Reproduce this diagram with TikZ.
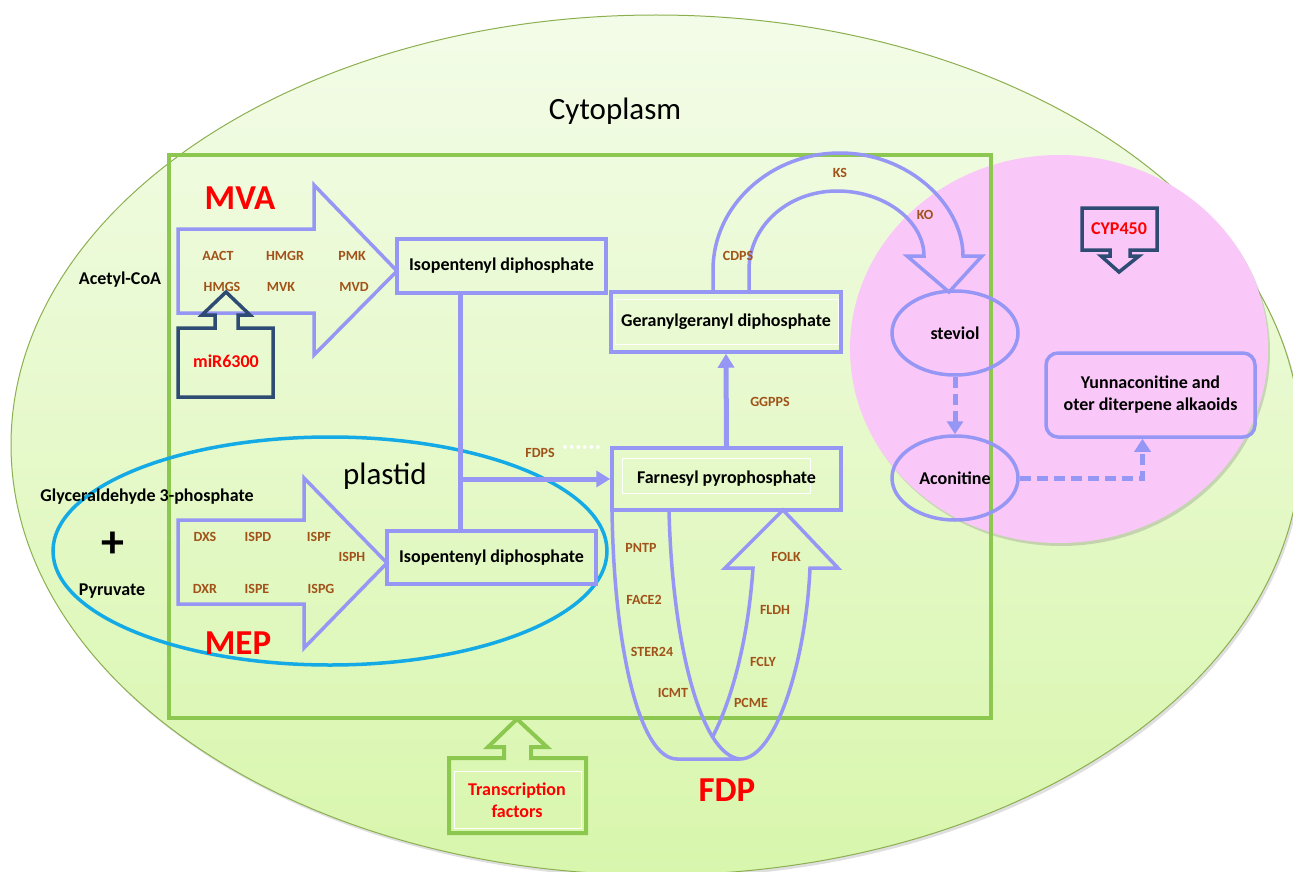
\documentclass[tikz,border=0pt]{standalone}
\usepackage{fontspec}
\setmainfont{Carlito}
\usetikzlibrary{arrows.meta,shapes.geometric,shadows}
\definecolor{peri}{RGB}{150,150,245}
\definecolor{enzcol}{RGB}{160,82,25}
\definecolor{gboxcol}{RGB}{140,200,80}
\definecolor{cyanl}{RGB}{20,170,230}
\definecolor{pinkc}{RGB}{250,200,248}
\definecolor{dblue}{RGB}{45,75,115}
\definecolor{cyttop}{RGB}{243,252,232}
\definecolor{cytbot}{RGB}{216,246,172}
\definecolor{cytedge}{RGB}{140,175,80}
\begin{document}
\begin{tikzpicture}[x=1pt,y=-1pt,
  pbox/.style={draw=peri,line width=3.5pt,inner sep=0pt,font=\fontsize{18}{20}\selectfont\bfseries},
  pell/.style={ellipse,draw=peri,line width=3.5pt,inner sep=0pt,minimum width=126pt,minimum height=84pt,font=\fontsize{18}{20}\selectfont\bfseries},
  enzlab/.style={text=enzcol,font=\fontsize{14}{16}\selectfont\bfseries,inner sep=0pt},
  blab/.style={font=\fontsize{18}{20}\selectfont\bfseries,inner sep=0pt},
  bigred/.style={text=red,font=\fontsize{35}{40}\selectfont\bfseries,inner sep=0pt},
  redlab/.style={text=red,font=\fontsize{18}{22}\selectfont\bfseries,inner sep=0pt},
  conn/.style={draw=peri,line width=5pt},
  dconn/.style={draw=peri,line width=5pt,dash pattern=on 11pt off 6pt},
  outl/.style={draw=peri,line width=3.5pt,line join=miter},
  tip/.style={-{Triangle[length=14pt,width=16pt]}}
]
\useasboundingbox (0,0) rectangle (1293,872);
\clip (0,0) rectangle (1293,872);
% cytoplasm
\draw[draw=cytedge,line width=1pt,top color=cyttop,bottom color=cytbot,
  drop shadow={shadow xshift=2pt,shadow yshift=-3pt,opacity=0.25}] (656,445) ellipse [x radius=645, y radius=430];
% pink compartment
\fill[pinkc,drop shadow={shadow xshift=2pt,shadow yshift=-3pt,opacity=0.3}] (1059,349) ellipse [x radius=209, y radius=194];
% green plastid box
\draw[gboxcol,line width=3.5pt] (169,155) rectangle (991,718);
\node[font=\fontsize{31}{36}\selectfont,inner sep=0pt] (cyt) at (615,111) {Cytoplasm};
% plastid ellipse
\draw[cyanl,line width=3.5pt] (330,551) ellipse [x radius=277, y radius=114];
\node[font=\fontsize{31}{36}\selectfont,inner sep=0pt] (pl) at (385,476) {plastid};
% MVA and MEP block arrows
\draw[outl] (178,229) -- (314,229) -- (314,185) -- (397,271) -- (314,355) -- (314,313) -- (178,313) -- cycle;
\draw[outl] (178,520) -- (304,520) -- (304,478) -- (387,563) -- (304,648) -- (304,604) -- (178,604) -- cycle;
% boxes
\node[pbox,minimum width=209pt,minimum height=54pt] (ipp1) at (501.5,266) {Isopentenyl diphosphate};
\node[pbox,minimum width=209pt,minimum height=53pt] (ipp2) at (491.5,557.5) {Isopentenyl diphosphate};
\draw[white,line width=0.8pt] (615,299) rectangle (838,344);
\node[pbox,minimum width=230pt,minimum height=60pt] (gg) at (726,322) {Geranylgeranyl diphosphate};
\draw[white,line width=0.8pt] (622,458) rectangle (810,493);
\node[pbox,minimum width=229pt,minimum height=62pt] (fpp) at (726.5,479) {Farnesyl pyrophosphate};
\node[pell] (stev) at (955,333) {steviol};
\node[pell] (acon) at (955,478) {Aconitine};
\node[pbox,rounded corners=12pt,minimum width=209pt,minimum height=84pt,align=center,font=\fontsize{18}{22}\selectfont\bfseries] (yun) at (1150.5,395) {Yunnaconitine and\\oter diterpene alkaoids};
% connectors
\coordinate (jx) at (460,479);
\draw[conn] (ipp1.south -| jx) -- (ipp2.north -| jx);
\draw[conn,tip] (jx) -- (fpp.west |- jx);
\draw[conn,tip] (fpp.north) -- (gg.south);
\draw[dconn,-{Triangle[length=13pt,width=16pt]}] (stev.south) -- (acon.north);
\draw[dconn,-{Triangle[length=13pt,width=16pt]}] (acon.east) -| ([xshift=-8pt]yun.south);
\draw[white,line width=3.5pt,dash pattern=on 0.1pt off 6.5pt,line cap=round] (565,447) -- (598,447);
% KS/KO curved block arrow
\draw[outl] (713,292) -- (713,270) .. controls (713,205) and (771,153) .. (840,153)
  .. controls (909,153) and (963,205) .. (963,256) -- (982,256) -- (949,292) -- (907,256) -- (924,256)
  .. controls (924,222) and (886,191) .. (837,191) .. controls (788,191) and (749,226) .. (749,270) -- (749,292);
% FDP U-turn arrow
\draw[outl] (612,510) .. controls (614,650) and (640,759) .. (677,759) -- (740,759)
  .. controls (776,759) and (806,660) .. (810,568) -- (838,568) -- (783,510) -- (725,568) -- (753,568)
  .. controls (748,640) and (732,700) .. (712,738);
\draw[outl] (669,510) .. controls (672,640) and (700,755) .. (740,759);
% enzyme labels
\node[enzlab] (e1) at (218,256) {AACT};
\node[enzlab] (e2) at (285,256) {HMGR};
\node[enzlab] (e3) at (352,256) {PMK};
\node[enzlab] (e4) at (222,287) {HMGS};
\node[enzlab] (e5) at (281,287) {MVK};
\node[enzlab] (e6) at (354,287) {MVD};
\node[enzlab] (e7) at (205,537) {DXS};
\node[enzlab] (e8) at (258,537) {ISPD};
\node[enzlab] (e9) at (319,537) {ISPF};
\node[enzlab] (e10) at (352,557) {ISPH};
\node[enzlab] (e11) at (205,589) {DXR};
\node[enzlab] (e12) at (257,589) {ISPE};
\node[enzlab] (e13) at (321,589) {ISPG};
\node[enzlab] (e14) at (840,173) {KS};
\node[enzlab] (e15) at (925,215) {KO};
\node[enzlab] (e16) at (738,256) {CDPS};
\node[enzlab] (e17) at (770,402) {GGPPS};
\node[enzlab] (e18) at (540,453) {FDPS};
\node[enzlab] (e19) at (641,548) {PNTP};
\node[enzlab] (e20) at (644,600) {FACE2};
\node[enzlab] (e21) at (652,652) {STER24};
\node[enzlab] (e22) at (673,693) {ICMT};
\node[enzlab] (e23) at (786,557) {FOLK};
\node[enzlab] (e24) at (775,610) {FLDH};
\node[enzlab] (e25) at (763,662) {FCLY};
\node[enzlab] (e26) at (751,703) {PCME};
% black labels
\node[blab] (acc) at (120,280) {Acetyl-CoA};
\node[blab] (gap) at (147,497) {Glyceraldehyde 3-phosphate};
\node[font=\fontsize{46}{48}\selectfont\bfseries,inner sep=0pt] (plus) at (113,545) {+};
\node[blab] (pyr) at (112,591) {Pyruvate};
% big red labels
\node[bigred] (mva) at (240,198) {MVA};
\node[bigred] (mep) at (238,643) {MEP};
\node[bigred] (fdp) at (727,790) {FDP};
% miR6300 callout
\draw[dblue,line width=3.5pt,line join=miter] (178,397) -- (178,328) -- (215,328) -- (215,315) -- (202,315) -- (226,292) -- (250,315) -- (238,315) -- (238,328) -- (273,328) -- (273,397) -- cycle;
\node[redlab] (mir) at (226,361) {miR6300};
% CYP450 callout
\draw[dblue,line width=3.5pt,line join=miter] (1082,208) -- (1157,208) -- (1157,250) -- (1130,250) -- (1130,256) -- (1139,256) -- (1119,272) -- (1101,256) -- (1110,256) -- (1110,250) -- (1082,250) -- cycle;
\node[redlab] (cyp) at (1119,229) {CYP450};
% transcription factors callout
\draw[gboxcol,line width=4pt,line join=miter] (449,833) -- (449,758) -- (504,758) -- (504,747) -- (488,747) -- (517,719) -- (547,747) -- (531,747) -- (531,758) -- (586,758) -- (586,833) -- cycle;
\draw[white,line width=0.8pt] (454,771) rectangle (581,828);
\node[redlab,align=center] (tf) at (517,800) {Transcription\\factors};
\end{tikzpicture}
\end{document}
